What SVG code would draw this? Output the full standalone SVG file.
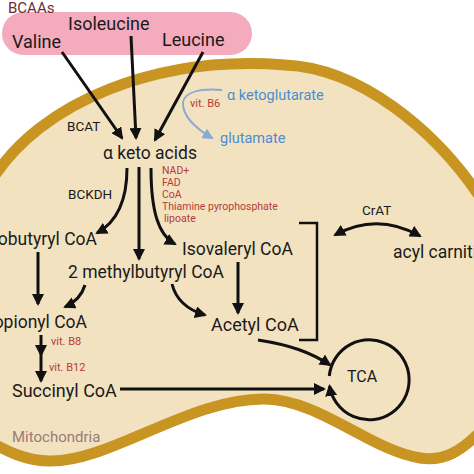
<svg xmlns="http://www.w3.org/2000/svg" width="474" height="474" viewBox="0 0 474 474">
<style>
text{font-family:Roboto,"Liberation Sans",sans-serif;fill:#1a1a1a}
.lg{font-size:17.5px}
.md{font-size:13.5px}
.red{font-size:10.5px;fill:#b83a3a}
.vit{font-size:11px;fill:#b83a3a}
.blue{font-size:14.5px;fill:#4a8ed0}
.arr{fill:none;stroke:#111;stroke-width:3;marker-end:url(#ah)}
</style>
<defs>
<marker id="ah" viewBox="0 0 12 12" markerWidth="12" markerHeight="12" refX="10" refY="6" orient="auto-start-reverse" markerUnits="userSpaceOnUse"><path d="M0,0 L12,6 L0,12 z" fill="#111"/></marker>
<marker id="ahb" viewBox="0 0 12 12" markerWidth="11" markerHeight="11" refX="10" refY="6" orient="auto" markerUnits="userSpaceOnUse"><path d="M0,0 L12,6 L0,12 z" fill="#8aaad2"/></marker>
</defs>
<rect width="474" height="474" fill="#fff"/>
<g id="mitochondrion">
<path d="M-10,183 C40,100 160,55 285,65 C360,68 435,130 480,197 L480,432 C462,450 445,462 420,458 C370,450 320,400 265,399 C190,398 110,462 50,461 C25,461 5,450 -10,442 Z" fill="#f2e2c0" stroke="#c99522" stroke-width="11"/>
<text x="12" y="442" style="font-size:15px;fill:#9c7a7a">Mitochondria</text>
</g>
<g id="bcaas">
<rect x="2" y="12" width="250" height="43" rx="21.5" fill="#f4abbd"/>
<text x="8" y="13" style="font-size:15px;fill:#6e2b35">BCAAs</text>
<text x="12" y="48" style="font-size:18px">Valine</text>
<text x="68" y="30" style="font-size:18px">Isoleucine</text>
<text x="162" y="46" style="font-size:18px">Leucine</text>
</g>
<g id="connectors">
<path class="arr" d="M62,52 L122,138"/>
<path class="arr" d="M131,36 L136,138"/>
<path class="arr" d="M203,52 L155,140"/>
<path d="M222,90 C200,88 185,92 183,102 C182,115 195,128 212,138" fill="none" stroke="#8aaad2" stroke-width="1.8" marker-end="url(#ahb)"/>
<path class="arr" d="M127,168 C127,200 117,222 97,233"/>
<path class="arr" d="M139,167 L139,259"/>
<path class="arr" d="M151,168 C151,210 158,235 175,244"/>
<path class="arr" d="M38,252 L38,304"/>
<path class="arr" d="M85,285 C82,295 76,302 65,307"/>
<path class="arr" d="M172,284 C176,300 188,310 205,315"/>
<path class="arr" d="M238,262 L238,313"/>
<path class="arr" d="M258,340 C290,345 310,352 330,365"/>
<path class="arr" d="M120,389 L324,389"/>
<path class="arr" d="M41,335 L41,355"/>
<path class="arr" d="M41,355 L41,381"/>
<path class="arr" d="M335,235 Q377,212 420,236" style="marker-start:url(#ah)"/>
<path d="M299,223 L317,223 L317,340 L299,340" fill="none" stroke="#111" stroke-width="2.5"/>
<path class="arr" d="M329.3,376 A40,40 0 1 1 329.6,386"/>
</g>
<g id="labels">
<text x="67" y="131" class="md">BCAT</text>
<text x="190" y="107" class="vit">vit. B6</text>
<text x="227" y="100" class="blue">α ketoglutarate</text>
<text x="220" y="143" class="blue">glutamate</text>
<text x="103" y="159" class="lg">α keto acids</text>
<text x="162" y="174" class="red">NAD+</text>
<text x="162" y="186" class="red">FAD</text>
<text x="162" y="198" class="red">CoA</text>
<text x="162" y="210" class="red">Thiamine pyrophosphate</text>
<text x="164" y="222" class="red">lipoate</text>
<text x="68" y="199" class="md">BCKDH</text>
<text x="97" y="245" class="lg" text-anchor="end">Isobutyryl CoA</text>
<text x="182" y="255" class="lg">Isovaleryl CoA</text>
<text x="68" y="278" class="lg">2 methylbutyryl CoA</text>
<text x="87" y="328" class="lg" text-anchor="end">Propionyl CoA</text>
<text x="211" y="331" style="font-size:18px">Acetyl CoA</text>
<text x="51" y="345" class="vit">vit. B8</text>
<text x="49" y="371" class="vit">vit. B12</text>
<text x="12" y="397" style="font-size:18px">Succinyl CoA</text>
<text x="362" y="215" class="md">CrAT</text>
<text x="393" y="258" class="lg">acyl carnitine</text>
<text x="347" y="382" style="font-size:16px">TCA</text>
</g>
</svg>
